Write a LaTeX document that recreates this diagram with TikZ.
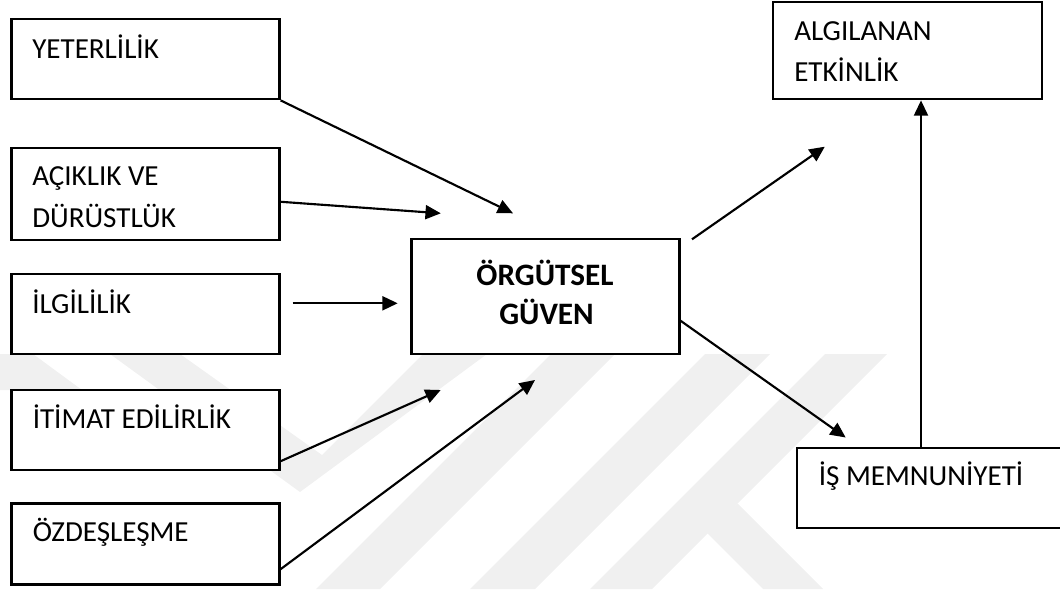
\documentclass[tikz,border=0pt]{standalone}
\usepackage{fontspec}
\setmainfont{Carlito}
\usetikzlibrary{arrows.meta,fit}
\begin{document}
\begin{tikzpicture}[x=0.75pt,y=-0.75pt,
  box/.style={draw=black, fill=white, line width=1.6pt, inner sep=0pt},
  lbl/.style={inner sep=0pt, font=\fontsize{21.8pt}{26pt}\selectfont},
  blbl/.style={inner sep=0pt, font=\fontsize{23.4pt}{28pt}\selectfont\bfseries},
  arr/.style={line width=1.6pt, -{Triangle[length=11.5pt,width=10.5pt]}},
  wm/.style={fill=black!6, draw=none}]
\useasboundingbox (0,0) rectangle (1060,589);
% faint watermark
\begin{scope}
  \clip (0,354) rectangle (1060,589);
  \fill[wm] (110,354) -- (180,354) -- (322,455) -- (423,354) -- (487,354) -- (300,492) -- cycle;
  \fill[wm] (-60,354) -- (33,354) -- (82,390) -- (-11,390) -- cycle;
  \fill[wm] (551,354) -- (615,354) -- (380,589) -- (316,589) -- cycle;
  \fill[wm] (705,354) -- (770,354) -- (535,589) -- (470,589) -- cycle;
  \fill[wm] (825,354) -- (887,354) -- (652,589) -- (590,589) -- cycle;
  \fill[wm] (737.5,503.5) -- (823,589) -- (763,589) -- (706,532) -- cycle;
\end{scope}
% boxes
\node[box, fit={(11.5,19.3) (279.5,99.3)}] (yet) {};
\node[box, fit={(11.5,148.3) (279.5,240)}] (acik) {};
\node[box, fit={(11.5,274) (279.5,354)}] (ilg) {};
\node[box, fit={(11.5,390) (279.5,470)}] (itm) {};
\node[box, fit={(11.5,503.5) (279.5,584.5)}] (ozd) {};
\node[box, fit={(411.5,239.3) (679.5,354)}] (org) {};
\node[box, fit={(773,1.7) (1042.4,99.3)}] (alg) {};
\node[box, fit={(797.3,447.7) (1095,528.3)}] (is) {};
% texts
\node[lbl, anchor=base west] (yetT) at (32,58.3) {YETERLİLİK};
\node[lbl, anchor=base west] (acikT1) at (32,185) {AÇIKLIK VE};
\node[lbl, anchor=base west] (acikT2) at (32,227.7) {DÜRÜSTLÜK};
\node[lbl, anchor=base west] (ilgT) at (32,313.3) {İLGİLİLİK};
\node[lbl, anchor=base west] (itmT) at (32.5,428.5) {İTİMAT EDİLİRLİK};
\node[lbl, anchor=base west] (ozdT) at (32.5,541.5) {ÖZDEŞLEŞME};
\node[blbl, anchor=base] (orgT1) at (545,285) {ÖRGÜTSEL};
\node[blbl, anchor=base] (orgT2) at (546.5,324) {GÜVEN};
\node[lbl, anchor=base west] (algT1) at (794,40.7) {ALGILANAN};
\node[lbl, anchor=base west] (algT2) at (794,81) {ETKİNLİK};
\node[lbl, anchor=base west] (isT) at (818.5,485.7) {İŞ MEMNUNİYETİ};
% connector ends
\coordinate (t1) at (513,213.3);
\coordinate (s2) at (279.5,201.7);
\coordinate (t2) at (440.8,213.3);
\coordinate (s3) at (292.7,303.3);
\coordinate (t3) at (397.7,303.3);
\coordinate (s4) at (279.5,461.7);
\coordinate (t4) at (440.7,390);
\coordinate (s5) at (279.5,570);
\coordinate (t5) at (535,380);
\coordinate (s6) at (692,239.3);
\coordinate (t6) at (824.8,146.7);
\coordinate (s7) at (679.5,320);
\coordinate (t7) at (845.7,437.5);
\coordinate (s8) at (921,447.7);
% connectors
\draw[arr] (yet.south east) -- (t1);
\draw[arr] (s2) -- (t2);
\draw[arr] (s3) -- (t3);
\draw[arr] (s4) -- (t4);
\draw[arr] (s5) -- (t5);
\draw[arr] (s6) -- (t6);
\draw[arr] (s7) -- (t7);
\draw[arr] (s8) -- (s8 |- alg.south);
\end{tikzpicture}
\end{document}
